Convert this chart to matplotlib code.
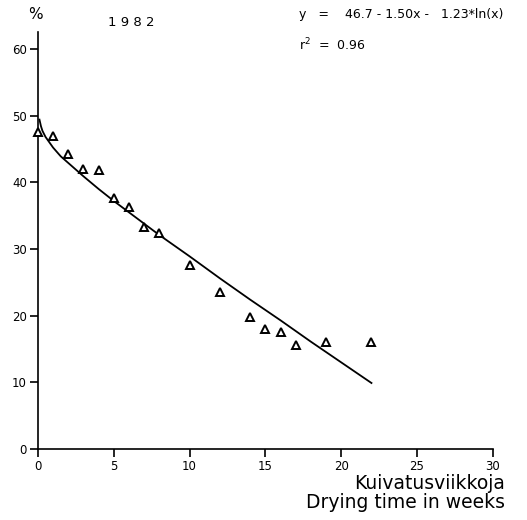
import matplotlib
matplotlib.use("Agg")
import matplotlib.pyplot as plt

# observed moisture content (%) by drying week, 1982
weeks = [0, 1, 2, 3, 4, 5, 6, 7, 8, 10, 12, 14, 15, 16, 17, 19, 22]
moisture = [47.5, 47.0, 44.2, 42.0, 41.8, 37.6, 36.3, 33.3, 32.4,
            27.6, 23.5, 19.8, 18.0, 17.5, 15.6, 16.0, 16.0]

# fitted curve
fit_x = [0.1, 0.2, 0.3, 0.5, 0.75, 1, 1.5, 2, 3, 4, 5, 6, 8, 10,
         12, 14, 16, 18, 20, 22]
fit_y = [49.4, 48.4, 47.7, 46.8, 46.0, 45.2, 43.9, 42.9, 40.9, 39.0,
         37.2, 35.5, 32.1, 28.9, 25.6, 22.4, 19.3, 16.1, 13.0, 9.9]

x_ticks = [0, 5, 10, 15, 20, 25, 30]
y_ticks = [0, 10, 20, 30, 40, 50, 60]

fig = plt.figure(figsize=(5.27, 5.20), dpi=100)
ax = fig.add_axes([0.072, 0.1365, 0.863, 0.8015])

ax.plot(fit_x, fit_y, color="black", lw=1.3)
ax.plot(weeks, moisture, linestyle="none", marker="^", markersize=6,
        markerfacecolor="white", markeredgecolor="black",
        markeredgewidth=1.4, clip_on=False, zorder=3)

ax.set_xlim(0, 30)
ax.set_ylim(0, 62.5)
ax.set_xticks(x_ticks)
ax.set_yticks(y_ticks)
ax.spines["top"].set_visible(False)
ax.spines["right"].set_visible(False)
ax.spines["left"].set_linewidth(1.2)
ax.spines["bottom"].set_linewidth(1.2)
ax.tick_params(direction="out", length=6, width=1.2, labelsize=8.5, pad=2)

fig.text(0.068, 0.972, "%", fontsize=11, ha="center", va="center")
fig.text(0.205, 0.957, "1 9 8 2", fontsize=9.5, ha="left", va="center")
fig.text(0.568, 0.973, "y   =    46.7 - 1.50x -   1.23*ln(x)",
         fontsize=9, ha="left", va="center")
fig.text(0.568, 0.913, r"r$^{2}$  =  0.96", fontsize=9, ha="left", va="center")

fig.text(0.958, 0.088, "Kuivatusviikkoja\nDrying time in weeks",
         fontsize=13.5, ha="right", va="top", linespacing=1.0)

fig.savefig("out.png", dpi=100)
